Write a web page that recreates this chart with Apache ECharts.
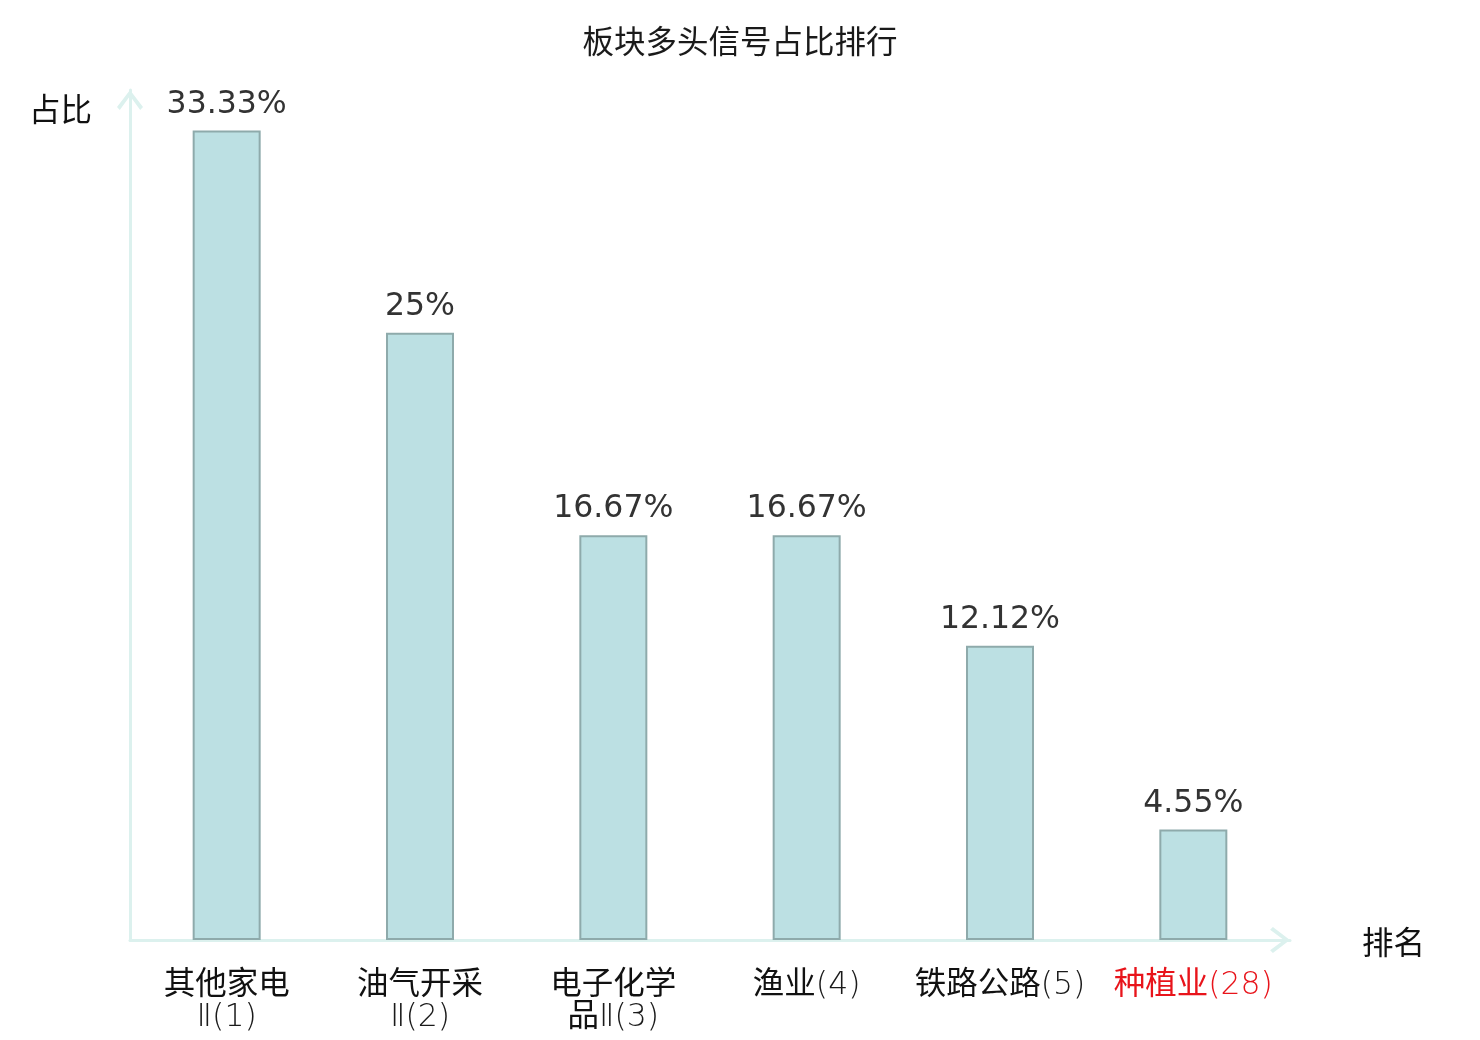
<!DOCTYPE html>
<html>
<head>
<meta charset="utf-8">
<script src="https://cdn.jsdelivr.net/npm/echarts@6/dist/echarts.min.js"></script>
<style>
  html, body {margin: 0; padding: 0; background: #fff;}
  #chart {width: 1480px; height: 1040px;}
</style>
</head>
<body>
<div id="chart"></div>
<script>
// 板块名称、排名、多头信号占比(%)
const sectors = ['其他家电Ⅱ', '油气开采Ⅱ', '电子化学品Ⅱ', '渔业', '铁路公路', '种植业']
const ranks = [1, 2, 3, 4, 5, 28]
const ratios = [33.33, 25, 16.67, 16.67, 12.12, 4.55]
const currentSector = '种植业'

const arrow = 'path://M0,17 L13,0 L26,17 L23.2,19.8 L13,6 L2.8,19.8 Z'
const axisColor = '#dcf1ee'
const font = "'DejaVu Sans', 'Noto Sans CJK SC', sans-serif"
const fs = 31.5

const chart = echarts.init(document.getElementById('chart'))
chart.setOption({
    textStyle: {fontFamily: font},
    title: {
        text: '板块多头信号占比排行',
        left: 'center',
        top: 24,
        textStyle: {fontSize: fs, fontWeight: 'normal', color: '#1a1a1a', fontFamily: font}
    },
    grid: {left: 130, right: 190, top: 90, bottom: 100},
    xAxis: {
        type: 'category',
        data: sectors,
        name: '排名',
        nameGap: 72,
        nameTextStyle: {fontSize: fs, color: '#111', verticalAlign: 'top', lineHeight: 12},
        axisLine: {
            show: true,
            lineStyle: {color: axisColor, width: 3},
            symbol: ['none', arrow],
            symbolSize: [26, 20],
            symbolOffset: [0, -10]
        },
        axisTick: {show: false},
        axisLabel: {
            margin: 30,
            interval: 0,
            formatter: function (value, idx) {
                // 名称超过4个字就换行
                let name = value.length > 4 ? value.slice(0, 4) + '\n' + value.slice(4) : value
                const k = value === currentSector ? 'h' : 'n'
                const parts = name.split('\n')
                let s = parts.map((p, i) => {
                    if (i === parts.length - 1) {
                        // 最后一行: 中文部分 + 罗马数字和排名
                        const m = p.match(/^([^Ⅱ]*)(Ⅱ?)$/)
                        return (m[1] ? '{' + k + '|' + m[1] + '}' : '') +
                            '{' + k + 'r|' + m[2] + '(' + ranks[idx] + ')}'
                    }
                    return '{' + k + '|' + p + '}'
                })
                return s.join('\n')
            },
            rich: {
                n: {fontSize: fs, color: '#111', lineHeight: 32, fontFamily: font},
                nr: {fontSize: fs, color: '#1a1a1a', fontWeight: 200, fontFamily: font, lineHeight: 32},
                h: {fontSize: fs, color: '#e8141b', lineHeight: 32, fontFamily: font},
                hr: {fontSize: fs, color: '#e8141b', fontWeight: 200, fontFamily: font, lineHeight: 32}
            }
        }
    },
    yAxis: {
        type: 'value',
        min: 0,
        max: 35,
        name: '占比',
        nameGap: -23,
        nameTextStyle: {fontSize: fs, color: '#111', align: 'right', verticalAlign: 'middle', padding: [0, 38, 0, 0]},
        axisLine: {
            show: true,
            lineStyle: {color: axisColor, width: 3},
            symbol: ['none', arrow],
            symbolSize: [26, 20],
            symbolOffset: [0, -10]
        },
        axisTick: {show: false},
        axisLabel: {show: false},
        splitLine: {show: false}
    },
    series: [{
        type: 'bar',
        data: ratios,
        barWidth: 68,
        itemStyle: {color: '#bce0e3', borderColor: '#8eaaab', borderWidth: 2},
        label: {
            show: true,
            position: 'top',
            distance: 10,
            fontSize: fs,
            color: '#333',
            fontFamily: 'DejaVu Sans',
            formatter: p => p.value + '%'
        }
    }]
})
</script>
</body>
</html>
